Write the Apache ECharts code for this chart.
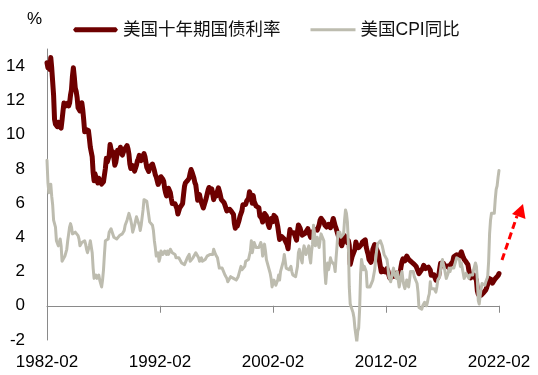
<!DOCTYPE html>
<html>
<head>
<meta charset="utf-8">
<script src="https://cdn.jsdelivr.net/npm/echarts@6/dist/echarts.min.js"></script>
<style>
html,body{margin:0;padding:0;background:#fff;}
#chart{width:538px;height:375px;}
</style>
</head>
<body>
<div id="chart"></div>
<script>
// Series names
const seriesNames = ['美国十年期国债利率', '美国CPI同比'];
// X tick labels (every 10 years)
const xTickLabels = ['1982-02', '1992-02', '2002-02', '2012-02', '2022-02'];
// Y tick labels
const yTicks = [-2, 0, 2, 4, 6, 8, 10, 12, 14];

// US 10Y Treasury yield (%), monthly, 1982-02 .. 2022-02
const yield10y = [
  14.2, 13.9, 14.1, 13.8, 14.5, 13.9, 13.1, 12.3, 10.9, 10.6, 10.5,          // 1982 Feb-Dec
  10.46, 10.72, 10.51, 10.40, 10.38, 10.85, 11.38, 11.85, 11.65, 11.54, 11.69, 11.83, // 1983
  11.67, 11.84, 12.32, 12.63, 13.41, 13.9, 13.36, 12.72, 12.52, 12.16, 11.57, 11.50,  // 1984
  11.38, 11.51, 11.86, 11.43, 10.85, 10.16, 10.31, 10.33, 10.37, 10.24, 9.78, 9.26,   // 1985
  9.19, 8.70, 7.78, 7.30, 7.71, 7.80, 7.30, 7.17, 7.45, 7.43, 7.25, 7.11,            // 1986
  7.08, 7.25, 7.25, 8.02, 8.61, 8.40, 8.45, 8.76, 9.42, 9.52, 8.86, 8.99,            // 1987
  8.67, 8.21, 8.37, 8.72, 9.09, 8.92, 9.06, 9.26, 8.98, 8.80, 8.96, 9.11,            // 1988
  9.09, 9.17, 9.36, 9.18, 8.86, 8.28, 8.02, 8.11, 8.19, 8.01, 7.87, 7.84,            // 1989
  8.21, 8.47, 8.59, 8.79, 8.76, 8.48, 8.47, 8.75, 8.89, 8.72, 8.39, 8.08,            // 1990
  8.09, 7.85, 8.11, 8.04, 8.07, 8.28, 8.27, 7.90, 7.65, 7.53, 7.42, 7.09,            // 1991
  7.03, 7.34, 7.54, 7.48, 7.39, 7.26, 6.84, 6.59, 6.42, 6.59, 6.87, 6.77,            // 1992
  6.60, 6.26, 5.98, 5.97, 6.04, 5.96, 5.81, 5.68, 5.36, 5.33, 5.72, 5.77,            // 1993
  5.75, 5.97, 6.48, 6.97, 7.18, 7.10, 7.30, 7.24, 7.46, 7.74, 7.96, 7.81,            // 1994
  7.78, 7.47, 7.20, 7.06, 6.63, 6.17, 6.28, 6.49, 6.20, 6.04, 5.93, 5.71,            // 1995
  5.65, 5.81, 6.27, 6.51, 6.74, 6.91, 6.87, 6.64, 6.83, 6.53, 6.20, 6.30,            // 1996
  6.58, 6.42, 6.69, 6.89, 6.71, 6.49, 6.22, 6.30, 6.21, 6.03, 5.88, 5.81,            // 1997
  5.54, 5.57, 5.65, 5.64, 5.65, 5.50, 5.46, 5.34, 4.81, 4.53, 4.83, 4.65,            // 1998
  4.72, 5.00, 5.23, 5.18, 5.54, 5.90, 5.79, 5.94, 5.92, 6.11, 6.03, 6.28,            // 1999
  6.66, 6.52, 6.26, 5.99, 6.44, 6.10, 6.05, 5.83, 5.80, 5.74, 5.72, 5.24,            // 2000
  5.16, 5.10, 4.89, 5.14, 5.39, 5.28, 5.24, 4.97, 4.73, 4.57, 4.65, 5.09,            // 2001
  5.04, 4.91, 5.28, 5.21, 5.16, 4.93, 4.65, 4.26, 3.87, 3.94, 4.05, 4.03,            // 2002
  4.05, 3.90, 3.81, 3.96, 3.57, 3.33, 3.98, 4.45, 4.27, 4.29, 4.30, 4.27,            // 2003
  4.15, 4.08, 3.83, 4.35, 4.72, 4.73, 4.50, 4.28, 4.13, 4.10, 4.19, 4.23,            // 2004
  4.22, 4.17, 4.50, 4.34, 4.14, 4.00, 4.18, 4.26, 4.20, 4.46, 4.54, 4.47,            // 2005
  4.42, 4.57, 4.72, 4.99, 5.11, 5.11, 5.09, 4.88, 4.72, 4.73, 4.60, 4.56,            // 2006
  4.76, 4.72, 4.56, 4.69, 4.75, 5.10, 5.00, 4.67, 4.52, 4.53, 4.15, 4.10,            // 2007
  3.74, 3.74, 3.51, 3.68, 3.88, 4.10, 4.01, 3.89, 3.69, 3.81, 3.53, 2.42,            // 2008
  2.52, 2.87, 2.82, 2.93, 3.29, 3.72, 3.56, 3.59, 3.40, 3.39, 3.40, 3.59,            // 2009
  3.73, 3.69, 3.73, 3.85, 3.42, 3.20, 3.01, 2.70, 2.65, 2.54, 2.76, 3.29,            // 2010
  3.39, 3.58, 3.41, 3.46, 3.17, 3.00, 3.00, 2.30, 1.98, 2.15, 2.01, 1.98,            // 2011
  1.97, 1.97, 2.17, 2.05, 1.80, 1.62, 1.53, 1.68, 1.72, 1.75, 1.65, 1.72,            // 2012
  1.91, 1.98, 1.96, 1.76, 1.93, 2.30, 2.58, 2.74, 2.81, 2.62, 2.72, 2.90,            // 2013
  2.86, 2.71, 2.72, 2.71, 2.56, 2.60, 2.54, 2.42, 2.53, 2.30, 2.33, 2.21,            // 2014
  1.88, 1.98, 2.04, 1.94, 2.20, 2.36, 2.32, 2.17, 2.17, 2.07, 2.26, 2.24,            // 2015
  2.09, 1.78, 1.89, 1.81, 1.81, 1.64, 1.50, 1.56, 1.63, 1.76, 2.14, 2.49,            // 2016
  2.43, 2.42, 2.48, 2.30, 2.30, 2.19, 2.32, 2.21, 2.20, 2.36, 2.35, 2.40,            // 2017
  2.58, 2.86, 2.84, 2.87, 2.98, 2.91, 2.89, 2.89, 3.00, 3.15, 3.12, 2.83,            // 2018
  2.71, 2.68, 2.57, 2.53, 2.40, 2.07, 2.06, 1.63, 1.70, 1.71, 1.81, 1.86,            // 2019
  1.76, 1.50, 0.87, 0.66, 0.67, 0.73, 0.62, 0.65, 0.68, 0.79, 0.87, 0.93,            // 2020
  1.08, 1.26, 1.61, 1.64, 1.62, 1.52, 1.32, 1.28, 1.37, 1.58, 1.56, 1.47,            // 2021
  1.76, 1.88                                                                          // 2022 Jan-Feb
];

// US CPI YoY (%), monthly, 1982-02 .. 2022-02
const cpiYoY = [
  8.5, 7.2, 6.6, 6.7, 7.1, 6.4, 5.9, 5.0, 5.1, 4.6, 3.8,                  // 1982 Feb-Dec
  3.7, 3.5, 3.6, 3.9, 3.5, 2.6, 2.5, 2.6, 2.9, 2.9, 3.3, 3.8,             // 1983
  4.2, 4.6, 4.8, 4.6, 4.2, 4.2, 4.2, 4.3, 4.3, 4.3, 4.1, 3.9,             // 1984
  3.5, 3.5, 3.7, 3.7, 3.8, 3.8, 3.6, 3.3, 3.1, 3.2, 3.5, 3.8,             // 1985
  3.9, 3.1, 2.2, 1.6, 1.5, 1.8, 1.6, 1.6, 1.8, 1.5, 1.3, 1.1,             // 1986
  1.5, 2.1, 3.0, 3.8, 3.9, 3.7, 3.9, 4.3, 4.4, 4.5, 4.5, 4.4,             // 1987
  4.0, 3.9, 3.9, 3.9, 3.9, 4.0, 4.1, 4.0, 4.2, 4.2, 4.2, 4.4,             // 1988
  4.7, 4.8, 5.0, 5.1, 5.4, 5.2, 5.0, 4.7, 4.3, 4.5, 4.7, 4.6,             // 1989
  5.2, 5.3, 5.2, 4.7, 4.4, 4.7, 4.8, 5.6, 6.2, 6.3, 6.3, 6.1,             // 1990
  5.7, 5.3, 4.9, 4.9, 5.0, 4.7, 4.4, 3.8, 3.4, 2.9, 3.0, 3.1,             // 1991
  2.6, 2.8, 3.2, 3.2, 3.0, 3.1, 3.2, 3.1, 3.0, 3.2, 3.0, 2.9,             // 1992
  3.3, 3.2, 3.1, 3.2, 3.2, 3.0, 2.8, 2.8, 2.7, 2.8, 2.7, 2.7,             // 1993
  2.5, 2.5, 2.5, 2.4, 2.3, 2.5, 2.8, 2.9, 3.0, 2.6, 2.7, 2.7,             // 1994
  2.8, 2.9, 2.9, 3.1, 3.2, 3.0, 2.8, 2.6, 2.5, 2.8, 2.6, 2.5,             // 1995
  2.7, 2.7, 2.8, 2.9, 2.9, 2.8, 3.0, 2.9, 3.0, 3.0, 3.3, 3.3,             // 1996
  3.0, 3.0, 2.8, 2.5, 2.2, 2.3, 2.2, 2.2, 2.2, 2.1, 1.8, 1.7,             // 1997
  1.6, 1.4, 1.4, 1.4, 1.7, 1.7, 1.7, 1.6, 1.5, 1.5, 1.5, 1.6,             // 1998
  1.7, 1.6, 1.7, 2.3, 2.1, 2.0, 2.1, 2.3, 2.6, 2.6, 2.6, 2.7,             // 1999
  2.7, 3.2, 3.8, 3.1, 3.2, 3.7, 3.7, 3.4, 3.5, 3.4, 3.4, 3.4,             // 2000
  3.7, 3.5, 2.9, 3.3, 3.6, 3.2, 2.7, 2.7, 2.6, 2.1, 1.9, 1.6,             // 2001
  1.1, 1.1, 1.5, 1.6, 1.2, 1.1, 1.5, 1.8, 1.5, 2.0, 2.2, 2.4,             // 2002
  2.6, 3.0, 3.0, 2.2, 2.1, 2.1, 2.1, 2.2, 2.3, 2.0, 1.8, 1.9,             // 2003
  1.9, 1.7, 1.7, 2.3, 3.1, 3.3, 3.0, 2.7, 2.5, 3.2, 3.5, 3.3,             // 2004
  3.0, 3.0, 3.1, 3.5, 2.8, 2.5, 3.2, 3.6, 4.7, 4.3, 3.5, 3.4,             // 2005
  4.0, 3.6, 3.4, 3.5, 4.2, 4.3, 4.1, 3.8, 2.1, 1.3, 2.0, 2.5,             // 2006
  2.1, 2.4, 2.8, 2.6, 2.7, 2.7, 2.4, 2.0, 2.8, 3.5, 4.3, 4.1,             // 2007
  4.3, 4.0, 4.0, 3.9, 4.2, 5.0, 5.6, 5.4, 4.9, 3.7, 1.1, 0.1,             // 2008
  0.0, 0.2, -0.4, -0.7, -1.3, -1.4, -2.1, -1.5, -1.3, -0.2, 1.8, 2.7,     // 2009
  2.6, 2.1, 2.3, 2.2, 2.0, 1.1, 1.2, 1.1, 1.1, 1.2, 1.1, 1.5,             // 2010
  1.6, 2.1, 2.7, 3.2, 3.6, 3.6, 3.6, 3.8, 3.9, 3.5, 3.4, 3.0,             // 2011
  2.9, 2.9, 2.7, 2.3, 1.7, 1.7, 1.4, 1.7, 2.0, 2.2, 1.8, 1.7,             // 2012
  1.6, 2.0, 1.5, 1.1, 1.4, 1.8, 2.0, 1.5, 1.2, 1.0, 1.2, 1.5,             // 2013
  1.6, 1.1, 1.5, 2.0, 2.1, 2.1, 2.0, 1.7, 1.7, 1.7, 1.3, 0.8,             // 2014
  -0.1, 0.0, -0.1, -0.2, 0.0, 0.1, 0.2, 0.2, 0.0, 0.2, 0.5, 0.7,          // 2015
  1.4, 1.0, 0.9, 1.1, 1.0, 1.0, 0.8, 1.1, 1.5, 1.6, 1.7, 2.1,             // 2016
  2.5, 2.7, 2.4, 2.2, 1.9, 1.6, 1.7, 1.9, 2.2, 2.0, 2.2, 2.1,             // 2017
  2.1, 2.2, 2.4, 2.5, 2.8, 2.9, 2.9, 2.7, 2.3, 2.5, 2.2, 1.9,             // 2018
  1.6, 1.5, 1.9, 2.0, 1.8, 1.6, 1.8, 1.7, 1.7, 1.8, 2.1, 2.3,             // 2019
  2.5, 2.3, 1.5, 0.3, 0.1, 0.6, 1.0, 1.3, 1.4, 1.2, 1.2, 1.4,             // 2020
  1.4, 1.7, 2.6, 4.2, 5.0, 5.4, 5.4, 5.3, 5.4, 6.2, 6.8, 7.0,             // 2021
  7.5, 7.9                                                                 // 2022 Jan-Feb
];

// Monthly categories 1982-02 .. 2022-02
const startYear = 1982, startMonth = 2;
const months = [];
for (let i = 0; i < yield10y.length; i++) {
  const m = startMonth - 1 + i;
  const y = startYear + Math.floor(m / 12);
  const mm = (m % 12) + 1;
  months.push(y + '-' + (mm < 10 ? '0' + mm : '' + mm));
}

const chart = echarts.init(document.getElementById('chart'), null, {renderer: 'canvas'});
const latin = 'Liberation Sans, Arial, Noto Sans CJK SC, sans-serif';
const redColor = '#6e0000';
const grayColor = '#bdbcaf';

chart.setOption({
  animation: false,
  backgroundColor: '#ffffff',
  title: {
    text: '%',
    left: 22,
    top: 6,
    textStyle: {fontSize: 17, fontWeight: 'normal', color: '#000', fontFamily: latin}
  },
  legend: {
    left: 73,
    top: 21,
    padding: 0,
    itemWidth: 45,
    itemHeight: 14,
    itemGap: 30,
    textStyle: {fontSize: 17.5, color: '#111', fontFamily: latin},
    data: [
      {name: seriesNames[0], icon: 'path://M2,0 L43,0 L45,2.5 L43,5 L2,5 L0,2.5 Z', itemStyle: {color: redColor}},
      {name: seriesNames[1], icon: 'path://M0,0 L45,0 L45,3 L0,3 Z', itemStyle: {color: grayColor}}
    ]
  },
  grid: {left: 47, right: 39, top: 49, bottom: 35, containLabel: false, outerBoundsMode: 'none'},
  xAxis: {
    type: 'category',
    data: months,
    boundaryGap: false,
    axisLine: {show: true, onZero: true, lineStyle: {color: '#8a8a8a', width: 1}},
    axisTick: {
      show: true, length: 7, lineStyle: {color: '#8a8a8a'},
      interval: (idx, val) => xTickLabels.indexOf(val) >= 0
    },
    axisLabel: {
      margin: 14,
      fontSize: 17,
      color: '#000',
      fontFamily: latin,
      interval: (idx, val) => xTickLabels.indexOf(val) >= 0
    },
    splitLine: {show: false}
  },
  yAxis: {
    type: 'value',
    min: -2,
    max: 15,
    interval: 2,
    axisLine: {show: true, lineStyle: {color: '#8a8a8a', width: 1}},
    axisTick: {show: false},
    splitLine: {show: false},
    axisLabel: {
      margin: 22,
      fontSize: 17,
      color: '#000',
      fontFamily: latin,
      formatter: v => (yTicks.indexOf(v) >= 0 ? String(v) : '')
    }
  },
  series: [
    {
      name: seriesNames[0],
      type: 'line',
      data: yield10y,
      showSymbol: false,
      symbol: 'none',
      lineStyle: {color: redColor, width: 5, cap: 'round', join: 'round'},
      itemStyle: {color: redColor},
      z: 2
    },
    {
      name: seriesNames[1],
      type: 'line',
      data: cpiYoY,
      showSymbol: false,
      symbol: 'none',
      lineStyle: {color: grayColor, width: 3, cap: 'round', join: 'round'},
      itemStyle: {color: grayColor},
      z: 3
    }
  ],
  graphic: [
    {
      type: 'line',
      shape: {x1: 502, y1: 260, x2: 517, y2: 216},
      style: {stroke: '#ff0000', lineWidth: 3, lineDash: [7, 4]},
      z: 10
    },
    {
      type: 'polygon',
      shape: {points: [[523, 204], [512, 214], [525.5, 219]]},
      style: {fill: '#ff0000'},
      z: 10
    }
  ]
});
</script>
</body>
</html>
